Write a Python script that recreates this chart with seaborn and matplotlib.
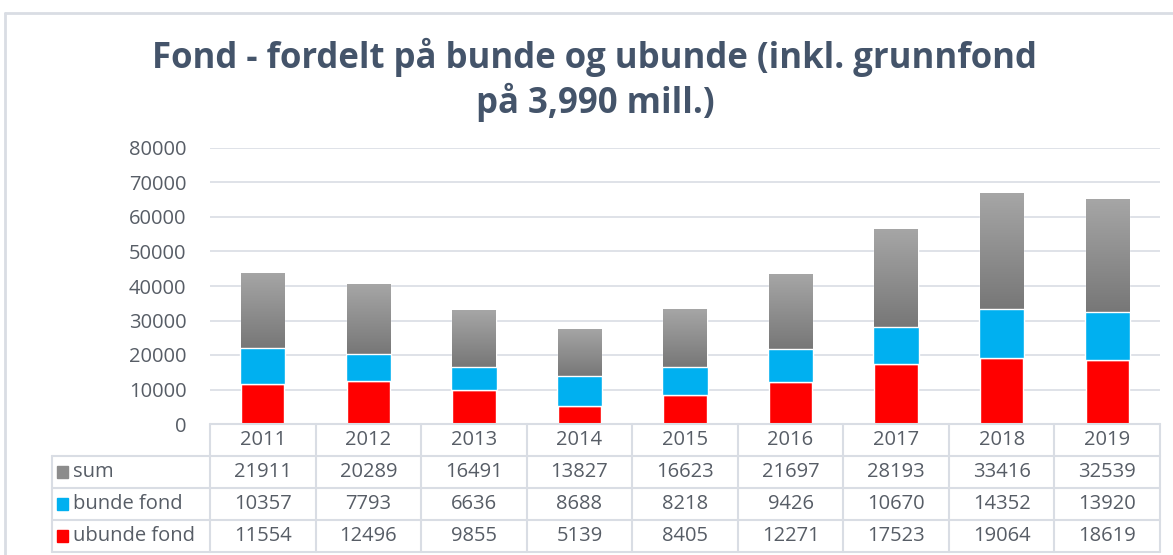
import numpy as np
import pandas as pd
import matplotlib
matplotlib.use("Agg")
import matplotlib.pyplot as plt
import seaborn as sns
from matplotlib.transforms import blended_transform_factory
from matplotlib.patches import Rectangle
from matplotlib.colors import LinearSegmentedColormap

years = ["2011", "2012", "2013", "2014", "2015", "2016", "2017", "2018", "2019"]
ubunde = [11554, 12496, 9855, 5139, 8405, 12271, 17523, 19064, 18619]
bunde = [10357, 7793, 6636, 8688, 8218, 9426, 10670, 14352, 13920]
sum_vals = [21911, 20289, 16491, 13827, 16623, 21697, 28193, 33416, 32539]
series_names = ["sum", "bunde fond", "ubunde fond"]
title = "Fond - fordelt på bunde og ubunde (inkl. grunnfond\npå 3,990 mill.)"

RED = "#ff0000"
BLUE = "#00b0f0"
GRAY = "#8c8c8c"
TXT = "#575d66"
GRID = "#d9dde4"
FS = 14.5

sns.set_theme(style="white")
plt.rcParams["font.family"] = ["Open Sans", "DejaVu Sans"]

W, H = 1173, 555
fig = plt.figure(figsize=(W / 100, H / 100), dpi=100)

df = pd.DataFrame({"year": years, "ubunde": ubunde, "bunde": bunde, "sum": sum_vals})
df["b1"] = df["ubunde"]
df["b2"] = df["ubunde"] + df["bunde"]

ax = fig.add_axes([210 / W, (H - 424) / H, (1160 - 210) / W, (424 - 148) / H])
bw = 0.41
sns.barplot(data=df, x="year", y="ubunde", order=years, color=RED, width=bw,
            saturation=1, ax=ax, zorder=3)
sns.barplot(data=df, x="year", y="bunde", order=years, color=BLUE, width=bw + 0.02,
            saturation=1, ax=ax, bottom=df["b1"].values, zorder=3)
sns.barplot(data=df, x="year", y="sum", order=years, color="#999999", width=bw,
            saturation=1, ax=ax, bottom=df["b2"].values, zorder=2)

# gradient on sum bars
grad = np.linspace(0, 1, 256).reshape(-1, 1)
cmap = LinearSegmentedColormap.from_list("g", ["#777777", "#a6a6a6"])
for p in ax.containers[2]:
    x0, y0 = p.get_x(), p.get_y()
    w, h = p.get_width(), p.get_height()
    im = ax.imshow(grad, extent=[x0, x0 + w, y0, y0 + h], origin="lower",
                   cmap=cmap, aspect="auto", zorder=2.5)
    im.set_clip_path(p)

ax.set_xlim(-0.5, len(years) - 0.5)
ax.set_ylim(0, 80000)
ax.set_yticks(np.arange(0, 80001, 10000))
ax.set_yticklabels([str(v) for v in range(0, 80001, 10000)], fontsize=FS, color=TXT)
ax.tick_params(axis="y", length=0, pad=17)
ax.set_xticks([])
ax.set_xlabel("")
ax.set_ylabel("")
for s in ax.spines.values():
    s.set_visible(False)
ax.grid(axis="y", color=GRID, linewidth=1.2, zorder=0)
ax.set_axisbelow(True)

# data table
tab = fig.add_axes([52 / W, (H - 552) / H, (1160 - 52) / W, (552 - 424) / H])
tab.set_axis_off()
tr = blended_transform_factory(ax.transData, tab.transAxes)
n = len(years)
row_edges = [1.0, 0.75, 0.5, 0.25, 0.0]
lw = 1.5
tab.plot([-0.5, n - 0.5], [1, 1], transform=tr, color=GRID, lw=lw, clip_on=False)
for yy in row_edges[1:]:
    tab.plot([0, 1], [yy, yy], transform=tab.transAxes, color=GRID, lw=lw, clip_on=False)
for i in range(n + 1):
    tab.plot([i - 0.5, i - 0.5], [0, 1], transform=tr, color=GRID, lw=lw, clip_on=False)
tab.plot([0, 0], [0, 0.75], transform=tab.transAxes, color=GRID, lw=lw, clip_on=False)

rows = [sum_vals, bunde, ubunde]
for i, y in enumerate(years):
    tab.text(i, 0.875, y, transform=tr, ha="center", va="center", fontsize=FS, color=TXT)
    for r, vals in enumerate(rows):
        yc = (row_edges[r + 1] + row_edges[r + 2]) / 2
        tab.text(i, yc, str(vals[i]), transform=tr, ha="center", va="center",
                 fontsize=FS, color=TXT)

label_colors = [GRAY, BLUE, RED]
for r, (name, c) in enumerate(zip(series_names, label_colors)):
    yc = (row_edges[r + 1] + row_edges[r + 2]) / 2
    tab.add_patch(Rectangle((5 / 1108, yc - 0.045), 11 / 1108, 0.09, transform=tab.transAxes,
                            color=c, clip_on=False))
    tab.text(21 / 1108, yc, name, transform=tab.transAxes, ha="left", va="center",
             fontsize=FS, color=TXT)

# chart frame
fig.add_artist(plt.Line2D([5 / W, 1], [(H - 13) / H, (H - 13) / H], color=GRID, lw=2,
                          transform=fig.transFigure))
fig.add_artist(plt.Line2D([5 / W, 5 / W], [0, (H - 13) / H], color=GRID, lw=2,
                          transform=fig.transFigure))

fig.text(595 / W, (H - 80) / H, title, ha="center", va="center", fontsize=25,
         fontweight="bold", color="#44546a", linespacing=1.22)

fig.savefig("out.png", dpi=100)
